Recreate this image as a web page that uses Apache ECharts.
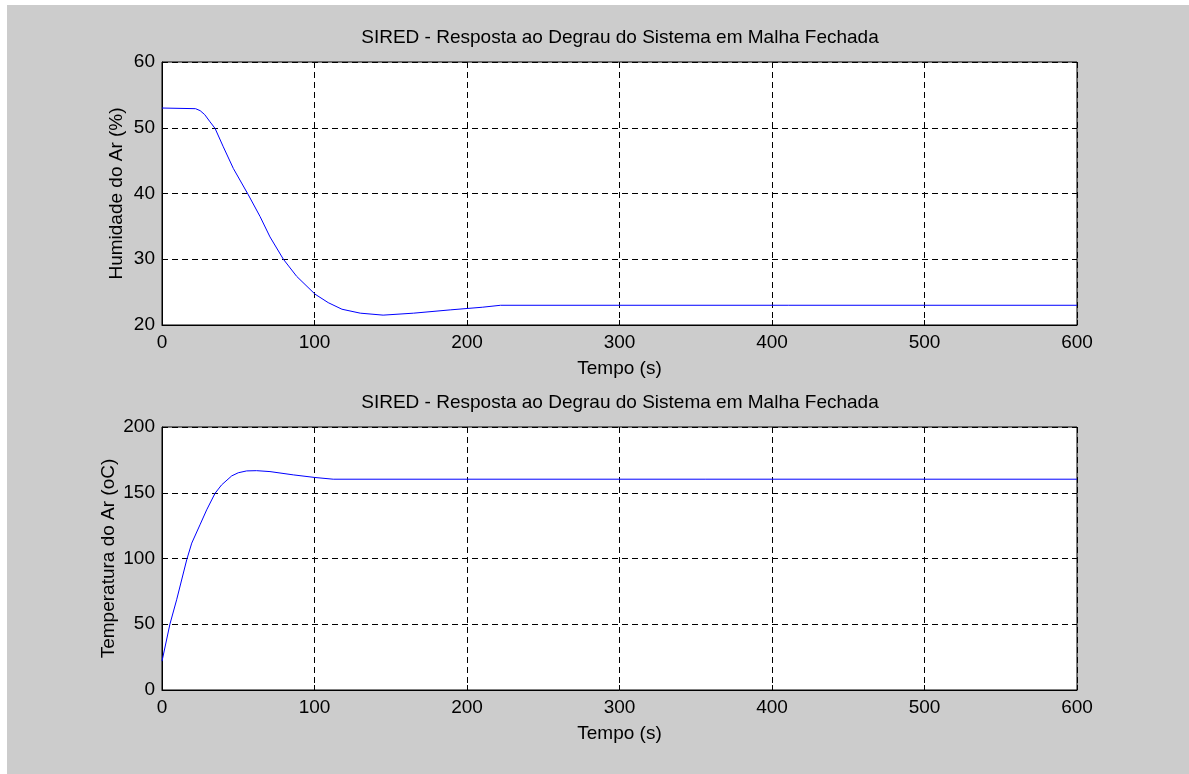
<!DOCTYPE html>
<html>
<head>
<meta charset="utf-8">
<script src="https://cdn.jsdelivr.net/npm/echarts@6/dist/echarts.min.js"></script>
<style>
html,body{margin:0;padding:0;background:#fff;}
#c{position:absolute;left:0;top:0;width:1189px;height:774px;
background:linear-gradient(#cccccc,#cccccc) no-repeat 7px 5px / 1182px 769px, #ffffff;}
</style>
</head>
<body>
<div id="c"></div>
<script>
// ---- data ----
const chartTitle = 'SIRED - Resposta ao Degrau do Sistema em Malha Fechada';
const xAxisName = 'Tempo (s)';
const humidityAxisName = 'Humidade do Ar (%)';
const temperatureAxisName = 'Temperatura do Ar (oC)';
const xTicks = [0, 100, 200, 300, 400, 500, 600];
const humidityTicks = [20, 30, 40, 50, 60];
const temperatureTicks = [0, 50, 100, 150, 200];

const humidityTime = [0, 22, 25, 28, 31.5, 34.8, 40.2, 46.8, 56.6, 64.3, 70.8, 79.6, 88.3, 100.3, 109, 118, 130, 145, 165, 189, 210, 222, 600];
const humidity     = [53, 52.9, 52.6, 52.0, 50.9, 49.9, 47.1, 43.8, 39.8, 36.5, 33.4, 30.0, 27.4, 24.7, 23.4, 22.4, 21.8, 21.5, 21.8, 22.3, 22.7, 23, 23];

const temperatureTime = [0, 5.2, 9.6, 16.2, 19.5, 24.9, 29.3, 34.8, 39.1, 45.7, 50, 55.5, 62, 70.8, 86.1, 100.3, 112.3, 600];
const temperature     = [21.9, 50.1, 68.6, 99.0, 111.7, 125.6, 137, 149.6, 156, 162.8, 165.2, 166.6, 166.8, 166.1, 163.6, 161.6, 160.3, 160.3];

// ---- chart ----
const FONT = 'Liberation Sans, Arial, Helvetica, sans-serif';
const FS = 19;
const chart = echarts.init(document.getElementById('c'), null, {renderer: 'canvas'});
const pair = (xs, ys) => xs.map((x, i) => [x, ys[i]]);

function xAx(gi) {
  return {
    gridIndex: gi, type: 'value', min: xTicks[0], max: xTicks[xTicks.length - 1],
    interval: xTicks[1] - xTicks[0],
    name: xAxisName, nameLocation: 'middle', nameGap: 34, nameMoveOverlap: false,
    nameTextStyle: {color: '#000', fontSize: FS, fontFamily: FONT},
    axisLine: {show: true, lineStyle: {color: '#000', width: 1}},
    axisTick: {show: true, inside: true, length: 5, lineStyle: {color: '#000'}},
    axisLabel: {color: '#000', fontSize: FS, fontFamily: FONT, margin: 8},
    splitLine: {show: true, lineStyle: {color: '#000', type: [6, 4], width: 1}}
  };
}
function yAx(gi, ticks, name, gap) {
  return {
    gridIndex: gi, type: 'value', min: ticks[0], max: ticks[ticks.length - 1],
    interval: ticks[1] - ticks[0],
    name: name, nameLocation: 'middle', nameGap: gap, nameMoveOverlap: false,
    nameTextStyle: {color: '#000', fontSize: FS, fontFamily: FONT},
    axisLine: {show: true, lineStyle: {color: '#000', width: 1}},
    axisTick: {show: true, inside: true, length: 5, lineStyle: {color: '#000'}},
    axisLabel: {color: '#000', fontSize: FS, fontFamily: FONT, margin: 7},
    splitLine: {show: true, lineStyle: {color: '#000', type: [6, 4], width: 1}}
  };
}

chart.setOption({
  backgroundColor: 'transparent',
  animation: false,
  graphic: [
    {type: 'text', x: 620, y: 38, style: {text: chartTitle, fill: '#000', font: FS + 'px ' + FONT, textAlign: 'center', textVerticalAlign: 'middle'}},
    {type: 'text', x: 620, y: 403, style: {text: chartTitle, fill: '#000', font: FS + 'px ' + FONT, textAlign: 'center', textVerticalAlign: 'middle'}}
  ],
  grid: [
    {left: 162, top: 62, width: 915, height: 263, show: true, backgroundColor: '#fff', borderColor: '#000', borderWidth: 1},
    {left: 162, top: 427, width: 915, height: 263, show: true, backgroundColor: '#fff', borderColor: '#000', borderWidth: 1}
  ],
  xAxis: [xAx(0), xAx(1)],
  yAxis: [yAx(0, humidityTicks, humidityAxisName, 36), yAx(1, temperatureTicks, temperatureAxisName, 44)],
  series: [
    {type: 'line', xAxisIndex: 0, yAxisIndex: 0, data: pair(humidityTime, humidity), showSymbol: false, symbol: 'none',
     lineStyle: {color: '#0000ff', width: 1}, silent: true},
    {type: 'line', xAxisIndex: 1, yAxisIndex: 1, data: pair(temperatureTime, temperature), showSymbol: false, symbol: 'none',
     lineStyle: {color: '#0000ff', width: 1}, silent: true}
  ]
});
</script>
</body>
</html>
